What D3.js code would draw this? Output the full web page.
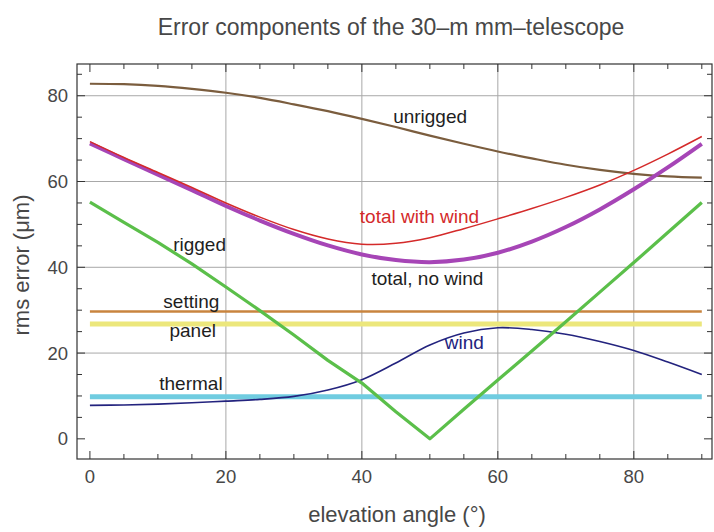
<!DOCTYPE html>
<html>
<head>
<meta charset="utf-8">
<script src="https://cdn.jsdelivr.net/npm/d3@7/dist/d3.min.js"></script>
<style>
  html, body { margin: 0; padding: 0; background: #ffffff; }
  svg { display: block; font-family: "Liberation Sans", Arial, Helvetica, sans-serif; }
</style>
</head>
<body>
<svg id="chart" width="714" height="532"></svg>
<script>
// Elevation angles (degrees) at which each error component is sampled
const elevation = [0, 5, 10, 15, 20, 25, 30, 35, 40, 45, 50, 55, 60, 65, 70, 75, 80, 85, 90];

// rms error components (µm)
const unrigged      = [82.8, 82.7, 82.3, 81.6, 80.7, 79.5, 78.0, 76.4, 74.6, 72.7, 70.7, 68.8, 67.0, 65.4, 63.9, 62.7, 61.8, 61.2, 60.9];
const rigged        = [55.2, 50.5, 45.8, 40.8, 35.4, 29.9, 24.2, 18.3, 13.0, 6.3, 0.0, 6.9, 13.7, 20.5, 27.3, 34.2, 41.1, 48.1, 55.1];
const wind          = [7.8, 7.9, 8.1, 8.4, 8.8, 9.2, 9.9, 11.4, 13.8, 17.7, 21.9, 24.7, 25.9, 25.5, 24.4, 22.7, 20.6, 17.9, 15.0];
const totalNoWind   = [68.9, 65.2, 61.6, 58.0, 54.3, 50.9, 47.8, 45.1, 43.0, 41.7, 41.2, 41.8, 43.4, 46.0, 49.4, 53.5, 58.2, 63.3, 68.8];
const totalWithWind = [69.3, 65.6, 62.1, 58.6, 55.0, 51.7, 48.8, 46.6, 45.4, 45.6, 46.9, 49.0, 51.3, 53.7, 56.3, 59.2, 62.6, 66.4, 70.5];

// Components that do not depend on elevation (µm)
const constantNames  = ["thermal", "panel", "setting"];
const constantValues = [9.8, 26.8, 29.7];

// Axis ticks
const xMajorTicks = [0, 20, 40, 60, 80];
const yMajorTicks = [0, 20, 40, 60, 80];
const gridX = [20, 40, 60, 80];
const gridY = [20, 40, 60, 80];

const titleText = "Error components of the 30\u2013m mm\u2013telescope";
const xLabel = "elevation angle (\u00b0)";
const yLabel = "rms error (\u03bcm)";

// ---------------------------------------------------------------
const svg = d3.select("#chart");
const frame = { left: 77, right: 712, top: 64, bottom: 459 };

const x = d3.scaleLinear().domain([-1.9, 91.5]).range([frame.left, frame.right]);
const y = d3.scaleLinear().domain([-4.7, 87.4]).range([frame.bottom, frame.top]);

const textColor = "#474747";
const frameColor = "#333333";

// Grid lines
const grid = svg.append("g");
grid.selectAll("line.gx").data(gridX).join("line")
  .attr("x1", d => x(d)).attr("x2", d => x(d))
  .attr("y1", frame.top).attr("y2", frame.bottom)
  .attr("stroke", "#a8a8a8").attr("stroke-width", 1);
grid.selectAll("line.gy").data(gridY).join("line")
  .attr("y1", d => y(d)).attr("y2", d => y(d))
  .attr("x1", frame.left).attr("x2", frame.right)
  .attr("stroke", "#a8a8a8").attr("stroke-width", 1);

// Series lines
const series = elevation.map((e, i) => i);
const smooth = d3.curveCatmullRom.alpha(0.5);
const lineOf = (values, curve) => d3.line()
  .x(i => x(elevation[i]))
  .y(i => y(values[i]))
  .curve(curve || smooth);

const plot = svg.append("g");

// constant components as horizontal lines across the elevation range
const constStyles = {
  thermal: { color: "#70cce0", width: 5 },
  panel:   { color: "#ece77c", width: 5 },
  setting: { color: "#c9843f", width: 2.6 }
};
constantNames.forEach((name, k) => {
  const v = constantValues[k];
  plot.append("path")
    .attr("d", d3.line().x(e => x(e)).y(() => y(v))([elevation[0], elevation[elevation.length - 1]]))
    .attr("fill", "none")
    .attr("stroke", constStyles[name].color)
    .attr("stroke-width", constStyles[name].width);
});

const drawSeries = (values, color, width, curve) => {
  plot.append("path")
    .attr("d", lineOf(values, curve)(series))
    .attr("fill", "none")
    .attr("stroke", color)
    .attr("stroke-width", width)
    .attr("stroke-linejoin", "round")
    .attr("stroke-linecap", "butt");
};

drawSeries(unrigged, "#7b5d3e", 2.2);
drawSeries(wind, "#23237e", 1.6);
drawSeries(rigged, "#5bbf4a", 3.2, d3.curveLinear);
drawSeries(totalNoWind, "#a645b6", 4);
drawSeries(totalWithWind, "#d42a2a", 1.5);

// Frame with inward ticks on all four sides
const axes = svg.append("g").attr("stroke", frameColor);
axes.append("rect")
  .attr("x", frame.left).attr("y", frame.top)
  .attr("width", frame.right - frame.left).attr("height", frame.bottom - frame.top)
  .attr("fill", "none").attr("stroke-width", 1.2);

const xMinor = d3.range(0, 91, 5);
const yMinor = d3.range(0, 86, 5);
const tickLen = d => (d % 20 === 0 ? 8 : 5);

xMinor.forEach(d => {
  axes.append("line").attr("x1", x(d)).attr("x2", x(d))
    .attr("y1", frame.bottom).attr("y2", frame.bottom - tickLen(d)).attr("stroke-width", 1);
  axes.append("line").attr("x1", x(d)).attr("x2", x(d))
    .attr("y1", frame.top).attr("y2", frame.top + tickLen(d)).attr("stroke-width", 1);
});
yMinor.forEach(d => {
  axes.append("line").attr("y1", y(d)).attr("y2", y(d))
    .attr("x1", frame.left).attr("x2", frame.left + tickLen(d)).attr("stroke-width", 1);
  axes.append("line").attr("y1", y(d)).attr("y2", y(d))
    .attr("x1", frame.right).attr("x2", frame.right - tickLen(d)).attr("stroke-width", 1);
});

// Tick labels
svg.append("g").selectAll("text").data(xMajorTicks).join("text")
  .attr("x", d => x(d)).attr("y", 483)
  .attr("text-anchor", "middle")
  .attr("font-size", 18.5).attr("fill", textColor)
  .text(d => d);
svg.append("g").selectAll("text").data(yMajorTicks).join("text")
  .attr("x", 68).attr("y", d => y(d) + 6.5)
  .attr("text-anchor", "end")
  .attr("font-size", 18.5).attr("fill", textColor)
  .text(d => d);

// Titles
svg.append("text")
  .attr("x", 391).attr("y", 35)
  .attr("text-anchor", "middle")
  .attr("font-size", 23).attr("fill", textColor)
  .text(titleText);
svg.append("text")
  .attr("x", 397).attr("y", 522)
  .attr("text-anchor", "middle")
  .attr("font-size", 22).attr("fill", textColor)
  .text(xLabel);
svg.append("text")
  .attr("transform", "translate(29,265) rotate(-90)")
  .attr("text-anchor", "middle")
  .attr("font-size", 22).attr("fill", textColor)
  .text(yLabel);

// Curve labels, placed in data coordinates
const curveLabels = [
  { text: "unrigged",        ex: 44.6, ev: 73.6, color: "#1e1e1e" },
  { text: "total with wind", ex: 39.7, ev: 50.4, color: "#d42a2a" },
  { text: "rigged",          ex: 12.25, ev: 43.8, color: "#1e1e1e" },
  { text: "total, no wind",  ex: 41.4, ev: 35.9, color: "#1e1e1e" },
  { text: "setting",         ex: 10.8, ev: 30.5, color: "#1e1e1e" },
  { text: "panel",           ex: 11.7, ev: 23.8, color: "#1e1e1e" },
  { text: "thermal",         ex: 10.2, ev: 11.4, color: "#1e1e1e" },
  { text: "wind",            ex: 52.2, ev: 20.9, color: "#23237e" }
];
svg.append("g").selectAll("text").data(curveLabels).join("text")
  .attr("x", d => x(d.ex)).attr("y", d => y(d.ev))
  .attr("font-size", 19).attr("fill", d => d.color)
  .text(d => d.text);
</script>
</body>
</html>
